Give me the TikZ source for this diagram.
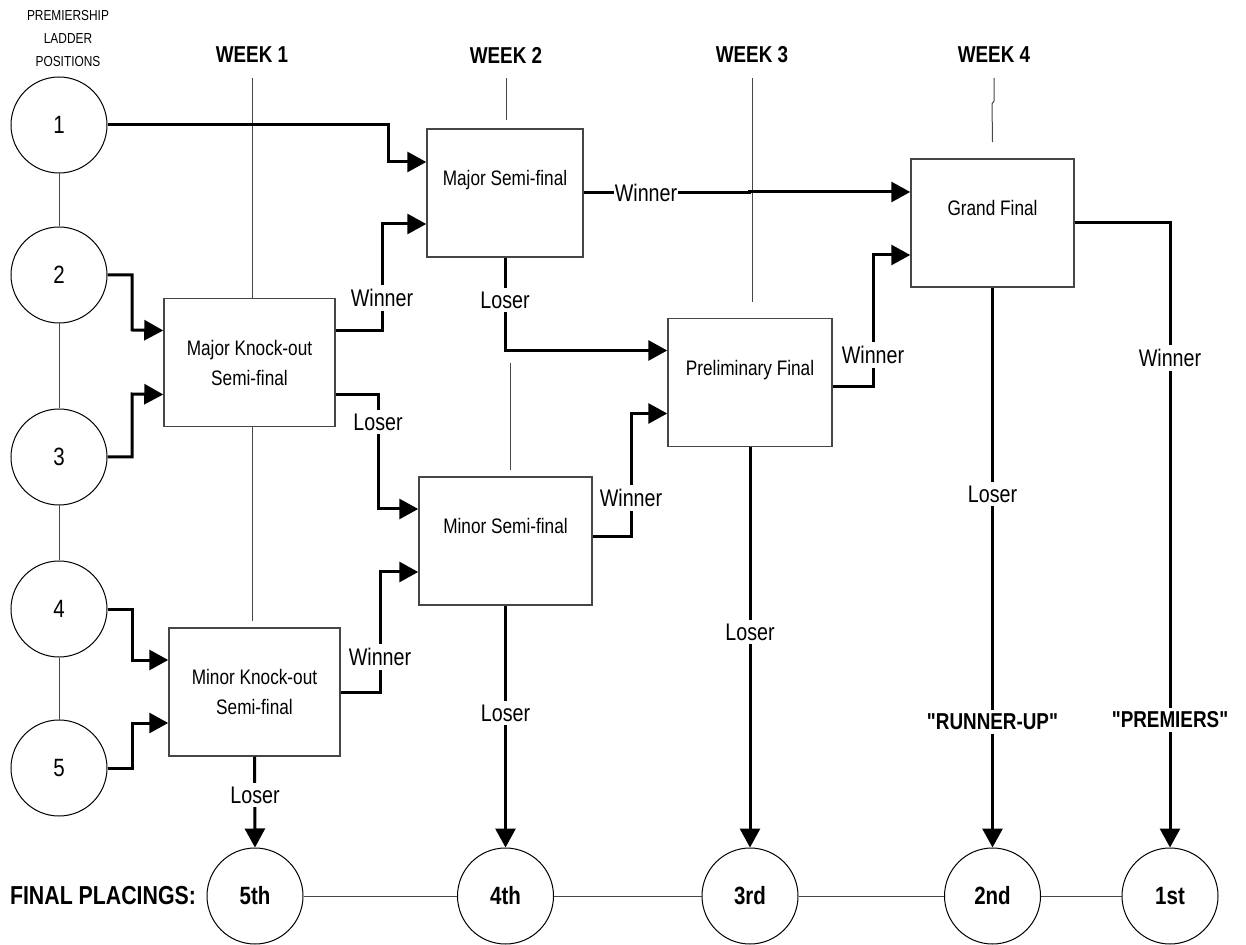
\documentclass[tikz,border=0pt]{standalone}
\usepackage{fontspec}
\setmainfont{Liberation Sans}[FakeStretch=0.82]
\newfontfamily\plainquotes{Liberation Sans}[FakeStretch=0.82]
\usetikzlibrary{arrows.meta,calc}
\definecolor{guidegray}{RGB}{70,70,70}

\begin{document}
\begin{tikzpicture}[x=0.5pt,y=-0.5pt,
    team/.style={draw,circle,line width=0.5pt,minimum size=48pt,inner sep=0pt,font=\fontsize{12.5}{15}\selectfont},
    place/.style={team,font=\bfseries\fontsize{12.5}{15}\selectfont},
    game/.style={draw=guidegray,line width=0.75pt,fill=white,minimum height=64pt,align=center,inner sep=0pt,font=\fontsize{10.5}{15}\selectfont},
    flow/.style={line width=1.5pt,-{Triangle[length=9.5pt,width=10pt]}},
    guide/.style={line width=0.5pt,guidegray},
    tag/.style={fill=white,inner xsep=0.5pt,inner ysep=2pt,font=\fontsize{12}{14}\selectfont},
    shout/.style={tag,font=\plainquotes\bfseries\fontsize{11.5}{14}\selectfont},
    week/.style={font=\bfseries\fontsize{11.5}{14}\selectfont}]

    \useasboundingbox (0,0) rectangle (1246,945);

    \coordinate (v1) at (59,125);
    \coordinate (v2) at (59,275);
    \coordinate (v3) at (59,457);
    \coordinate (v4) at (59,609);
    \coordinate (v5) at (59,768);

    % ladder positions
    \node[align=center,font=\fontsize{7.25}{11.5}\selectfont] (ladder) at (68,39) {PREMIERSHIP\\LADDER\\POSITIONS};
    \node[team] (t1) at (v1) {1};
    \node[team] (t2) at (v2) {2};
    \node[team] (t3) at (v3) {3};
    \node[team] (t4) at (v4) {4};
    \node[team] (t5) at (v5) {5};
    \foreach \a/\b in {t1/t2,t2/t3,t3/t4,t4/t5}
        \draw[guide] (\a) -- (\b);

    % weeks
    \node[week] (w1) at (252,55) {WEEK 1};
    \node[week] (w2) at (506,55) {WEEK 2};
    \node[week] (w3) at (752,55) {WEEK 3};
    \node[week] (w4) at (994,55) {WEEK 4};

    % games
    \node[game,minimum width=85.5pt] (mko) at (249.5,362.5) {Major Knock-out\\Semi-final};
    \node[game,minimum width=85.5pt] (nko) at (254.5,692) {Minor Knock-out\\Semi-final};
    \node[game,minimum width=78pt] (msf) at (505,193) {Major Semi-final\\\mbox{}};
    \node[game,minimum width=86.5pt] (nsf) at (505.5,541) {Minor Semi-final\\\mbox{}};
    \node[game,minimum width=82pt] (pf) at (750,382.5) {Preliminary Final\\\mbox{}};
    \node[game,minimum width=81.5pt] (gf) at (992.5,223) {Grand Final\\\mbox{}};

    \draw[guide] ([yshift=-4pt]w1.south) -- (w1.south |- mko.north);
    \draw[guide] (w1 |- mko.south) -- ($(w1 |- nko.north)+(0,-6)$);
    \draw[guide] ([yshift=-4pt]w2.south) -- ($(w2 |- msf.north)+(0,-8)$);
    \draw[guide] (510,363) -- (510,470);
    \draw[guide] ([yshift=-4pt]w3.south) -- ($(w3 |- pf.north)+(0,-16)$);
    \draw[guide] ([yshift=-4pt]w4.south) -- ++(0,23) -- ++(-2,3) -- ($(gf.north)+(0,-16)$);

    % final placings
    \node[font=\bfseries\fontsize{13}{15}\selectfont] (fp) at (103,896) {FINAL PLACINGS:};
    \node[place] (p5) at (255,896) {5th};
    \node[place] (p4) at (505.5,896) {4th};
    \node[place] (p3) at (750,896) {3rd};
    \node[place] (p2) at (992.5,896) {2nd};
    \node[place] (p1) at (1170,896) {1st};
    \foreach \a/\b in {p5/p4,p4/p3,p3/p2,p2/p1}
        \draw[guide] (\a) -- (\b);

    % draws
    \draw[flow] (t1.east) -| (388,162) -- ($(msf.west)+(0,-31)$);
    \draw[flow] (t2.east) -| (132,330) -- ($(mko.west)+(0,-32)$);
    \draw[flow] (t3.east) -| (132,394) -- ($(mko.west)+(0,32)$);
    \draw[flow] (t4.east) -| (132,660) -- ($(nko.west)+(0,-32)$);
    \draw[flow] (t5.east) -| (132,723) -- ($(nko.west)+(0,31)$);
    \draw[flow] ($(mko.east)+(0,-32)$) -| (382,224) -- ($(msf.west)+(0,31)$);
    \draw[flow] ($(mko.east)+(0,32)$) -| (378,509) -- ($(nsf.west)+(0,-32)$);
    \draw[flow] (nko.east) -| (380,572) -- ($(nsf.west)+(0,31)$);
    \draw[flow] (nko.south) -- (p5.north);
    \draw[flow] ($(nsf.east)+(0,-4)$) -| (631,413.5) -- ($(pf.west)+(0,31)$);
    \draw[flow] (nsf.south) -- (p4.north);
    \draw[flow] (msf.south) |- ($(pf.west)+(0,-32)$);
    \draw[flow] (msf.east) -| (749,192) -- ($(gf.west)+(0,-31)$);
    \draw[flow] ($(pf.east)+(0,4)$) -| (873,255) -- ($(gf.west)+(0,32)$);
    \draw[flow] (pf.south) -- (p3.north);
    \draw[flow] (gf.south) -- (p2.north);
    \draw[flow] (gf.east) -| (p1.north);

    % results
    \node[tag] (r1) at (382,298) {Winner};
    \node[tag] (r2) at (378,422) {Loser};
    \node[tag] (r3) at (380,657) {Winner};
    \node[tag] (r4) at (255,795) {Loser};
    \node[tag] (r5) at (505.5,713) {Loser};
    \node[tag] (r6) at (631,498) {Winner};
    \node[tag] (r7) at (505,300) {Loser};
    \node[tag] (r8) at (646,193) {Winner};
    \node[tag] (r9) at (873,355) {Winner};
    \node[tag] (r10) at (750,632) {Loser};
    \node[tag] (r11) at (992.5,494) {Loser};
    \node[shout] (r12) at (992.5,722) {"RUNNER-UP"};
    \node[tag] (r13) at (1170,358) {Winner};
    \node[shout] (r14) at (1170,720) {"PREMIERS"};
\end{tikzpicture}
\end{document}
